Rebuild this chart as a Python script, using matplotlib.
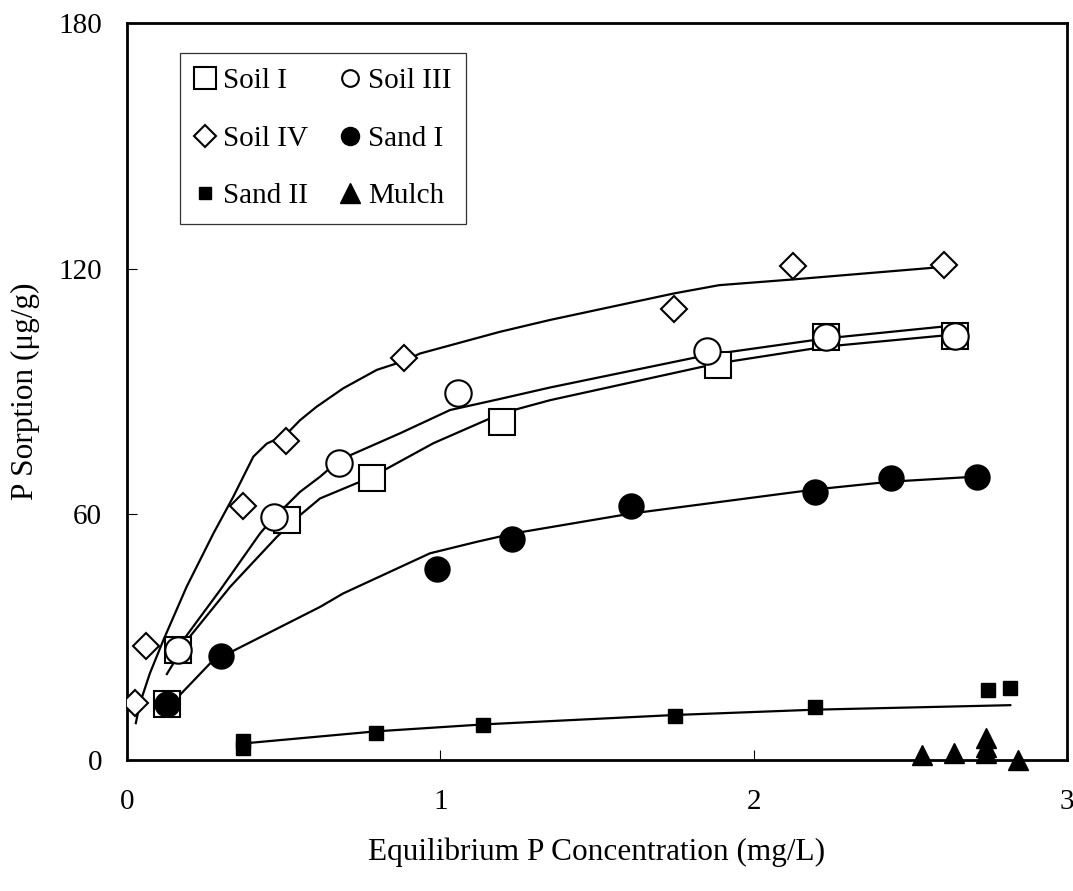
import matplotlib
matplotlib.use("Agg")
import matplotlib.pyplot as plt
from matplotlib.lines import Line2D

plt.rcParams['font.family'] = ['Liberation Serif', 'DejaVu Serif']

# measured points
soil1_x = [0.127, 0.164, 0.51, 0.782, 1.196, 1.886, 2.231, 2.644]
soil1_y = [13.6, 26.9, 58.6, 69.0, 82.6, 96.5, 103.4, 103.7]
soil3_x = [0.162, 0.47, 0.678, 1.056, 1.85, 2.231, 2.644]
soil3_y = [26.9, 59.4, 72.5, 89.6, 100.0, 103.4, 103.7]
soil4_x = [0.026, 0.06, 0.371, 0.506, 0.885, 1.747, 2.126, 2.609]
soil4_y = [14.0, 27.8, 62.0, 78.0, 98.1, 110.2, 120.7, 120.9]
sand1_x = [0.127, 0.30, 0.988, 1.229, 1.608, 2.197, 2.437, 2.713]
sand1_y = [13.6, 25.5, 46.6, 54.1, 62.0, 65.5, 69.0, 69.2]
sand2_x = [0.371, 0.371, 0.794, 1.137, 1.748, 2.197, 2.749, 2.819]
sand2_y = [4.6, 3.0, 6.7, 8.5, 10.8, 12.9, 17.1, 17.5]
mulch_x = [2.536, 2.64, 2.742, 2.742, 2.742, 2.845]
mulch_y = [1.2, 1.6, 5.3, 3.2, 1.6, 0.0]

# fitted curves
fit1_x = [0.127, 0.20, 0.329, 0.478, 0.552, 0.616, 0.782, 0.978, 1.196, 1.35, 1.886, 2.231, 2.62]
fit1_y = [21.0, 30.1, 42.3, 54.5, 59.8, 63.9, 69.2, 77.4, 84.7, 87.9, 96.9, 101.0, 103.8]
fit3_x = [0.162, 0.297, 0.425, 0.47, 0.51, 0.552, 0.616, 0.678, 0.871, 1.031, 1.19, 1.35, 1.85, 2.231, 2.62]
fit3_y = [27.5, 41.5, 55.4, 59.4, 62.3, 65.5, 69.2, 73.3, 79.8, 85.5, 88.2, 91.0, 98.9, 103.0, 106.0]
fit4_x = [0.028, 0.041, 0.073, 0.116, 0.19, 0.276, 0.339, 0.403, 0.446, 0.506, 0.552, 0.605,
          0.69, 0.797, 0.885, 0.935, 1.19, 1.35, 1.747, 1.89, 2.126, 2.58]
fit4_y = [9.0, 13.8, 21.2, 29.3, 42.3, 55.4, 64.3, 74.1, 77.3, 79.4, 83.0, 86.3,
          90.8, 95.3, 97.5, 99.3, 104.6, 107.5, 114.0, 116.0, 117.4, 120.3]
fits1_x = [0.127, 0.175, 0.265, 0.345, 0.616, 0.69, 0.967, 1.116, 1.237, 1.608, 2.197, 2.437, 2.705]
fits1_y = [12.5, 16.4, 23.6, 26.9, 37.4, 40.7, 50.5, 53.3, 55.4, 60.2, 66.1, 68.0, 69.2]
fits2_x = [0.393, 0.794, 1.137, 1.748, 2.197, 2.819]
fits2_y = [4.2, 7.0, 8.7, 11.0, 12.3, 13.4]

fig = plt.figure(figsize=(10.73, 8.91), dpi=100)
ax = fig.add_axes([0.1184, 0.147, 0.876, 0.827])

for fx, fy in [(fit1_x, fit1_y), (fit3_x, fit3_y), (fit4_x, fit4_y),
               (fits1_x, fits1_y), (fits2_x, fits2_y)]:
    ax.plot(fx, fy, color='black', lw=1.6, zorder=2)

mew = 1.5
ax.plot(soil1_x, soil1_y, ls='none', marker='s', ms=19, mfc='white', mec='black', mew=mew, zorder=3)
ax.plot(soil3_x, soil3_y, ls='none', marker='o', ms=19, mfc='white', mec='black', mew=mew, zorder=4)
ax.plot(soil4_x, soil4_y, ls='none', marker='D', ms=13, mfc='white', mec='black', mew=mew, zorder=4)
ax.plot(sand1_x, sand1_y, ls='none', marker='o', ms=18, mfc='black', mec='black', zorder=5)
ax.plot(sand2_x, sand2_y, ls='none', marker='s', ms=10.5, mfc='black', mec='black', zorder=5)
ax.plot(mulch_x, mulch_y, ls='none', marker='^', ms=14, mfc='black', mec='black', zorder=5, clip_on=False)

ax.set_xlim(0, 3)
ax.set_ylim(0, 180)
ax.set_xticks([0, 1, 2, 3])
ax.set_yticks([0, 60, 120, 180])
ax.tick_params(direction='in', length=7, width=0.8, labelsize=21)
ax.tick_params(axis='x', pad=21)
ax.tick_params(axis='y', pad=18)
for s in ax.spines.values():
    s.set_linewidth(2)

ax.set_xlabel('Equilibrium P Concentration (mg/L)', fontsize=22.5, labelpad=16)
ax.set_ylabel('P Sorption (μg/g)', fontsize=22.5, labelpad=13)

handles = [
    Line2D([], [], ls='none', marker='s', ms=15.5, mfc='white', mec='black', mew=mew),
    Line2D([], [], ls='none', marker='D', ms=11, mfc='white', mec='black', mew=mew),
    Line2D([], [], ls='none', marker='s', ms=9, mfc='black', mec='black'),
    Line2D([], [], ls='none', marker='o', ms=12, mfc='white', mec='black', mew=mew),
    Line2D([], [], ls='none', marker='o', ms=13, mfc='black', mec='black'),
    Line2D([], [], ls='none', marker='^', ms=14.5, mfc='black', mec='black'),
]
labels = ['Soil I', 'Soil IV', 'Sand II', 'Soil III', 'Sand I', 'Mulch']
leg = ax.legend(handles, labels, ncol=2, loc='upper left', bbox_to_anchor=(0.056, 0.959),
                fontsize=21, frameon=True, fancybox=False, edgecolor='black',
                handlelength=0.75, handletextpad=0.25, columnspacing=1.05,
                labelspacing=1.06, borderpad=0.5, borderaxespad=0)
leg.get_frame().set_linewidth(0.9)

fig.savefig('out.png', dpi=100)
